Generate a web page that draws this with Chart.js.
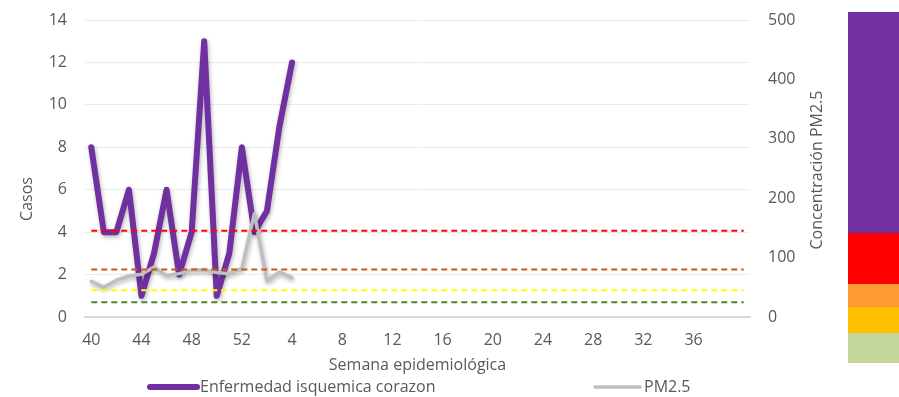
<!DOCTYPE html>
<html>
<head>
<meta charset="utf-8">
<script src="https://cdn.jsdelivr.net/npm/chart.js@4.4.1/dist/chart.umd.min.js"></script>
<style>
	html, body { margin: 0; padding: 0; background: #fff; }
	#wrap { position: relative; width: 899px; height: 397px; }
	#escala { position: absolute; left: 848px; top: 12px; width: 51px; }
	#escala div { width: 100%; }
</style>
</head>
<body>
<div id="wrap">
	<canvas id="grafico" width="899" height="397"></canvas>
	<div id="escala">
		<div style="height:221px;background:#7030a0"></div>
		<div style="height:51px;background:#ff0000"></div>
		<div style="height:23px;background:#ff9933"></div>
		<div style="height:26px;background:#ffc000"></div>
		<div style="height:30px;background:#c4d79b"></div>
	</div>
</div>
<script>
	// semanas epidemiologicas (40 a 52 y luego 1 a 40)
	const semanas = [
		"40", "41", "42", "43", "44", "45", "46", "47", "48", "49", "50", "51", "52",
		"1", "2", "3", "4", "5", "6", "7", "8", "9", "10", "11", "12", "13", "14",
		"15", "16", "17", "18", "19", "20", "21", "22", "23", "24", "25", "26", "27",
		"28", "29", "30", "31", "32", "33", "34", "35", "36", "37", "38", "39", "40",
	];
	const casos = [8, 4, 4, 6, 1, 3, 6, 2, 4, 13, 1, 3, 8, 4, 5, 9, 12];
	const pm25 = [60, 50, 62, 69, 72, 84, 70, 73, 79, 79, 75, 73, 82, 174, 61, 76, 66];
	const umbrales = [25, 45, 80, 145];
	const coloresUmbral = ["#548235", "#ffff00", "#c55a11", "#ff0000"];

	const gris = "#595959";
	const fuente = { family: "'Open Sans', sans-serif", size: 16 };

	const lineasUmbral = umbrales.map((u, i) => ({
		label: "umbral " + u,
		data: semanas.map(() => u),
		yAxisID: "y1",
		borderColor: coloresUmbral[i],
		borderWidth: 2,
		borderDash: [6, 4],
		pointRadius: 0,
	}));

	const sombra = {
		id: "sombra",
		beforeDatasetDraw(chart, args) {
			if (!args.meta._dataset.sombra) return;
			const ctx = chart.ctx;
			ctx.save();
			ctx.shadowColor = "rgba(0,0,0,0.3)";
			ctx.shadowBlur = 4;
			ctx.shadowOffsetX = 1;
			ctx.shadowOffsetY = 2;
		},
		afterDatasetDraw(chart, args) {
			if (args.meta._dataset.sombra) chart.ctx.restore();
		},
	};

	const textos = {
		id: "textos",
		afterDraw(chart) {
			const ctx = chart.ctx;
			ctx.save();
			ctx.fillStyle = gris;
			ctx.font = "16px 'Open Sans', sans-serif";
			ctx.textAlign = "center";
			ctx.textBaseline = "middle";
			ctx.translate(27, 199);
			ctx.rotate(-Math.PI / 2);
			ctx.fillText("Casos", 0, 0);
			ctx.restore();

			ctx.save();
			ctx.fillStyle = gris;
			ctx.font = "16px 'Open Sans', sans-serif";
			ctx.textAlign = "center";
			ctx.textBaseline = "middle";
			ctx.translate(817, 170);
			ctx.rotate(-Math.PI / 2);
			ctx.fillText("Concentración PM2.5", 0, 0);
			ctx.restore();

			// leyenda
			const items = [
				{ ds: chart.data.datasets[5], x1: 150, x2: 197, tx: 200 },
				{ ds: chart.data.datasets[4], x1: 595, x2: 640, tx: 644 },
			];
			ctx.save();
			ctx.font = "16px 'Open Sans', sans-serif";
			ctx.textBaseline = "middle";
			items.forEach((it) => {
				ctx.strokeStyle = it.ds.borderColor;
				ctx.lineWidth = it.ds.borderWidth;
				ctx.lineCap = "round";
				ctx.beginPath();
				ctx.moveTo(it.x1, 387);
				ctx.lineTo(it.x2, 387);
				ctx.stroke();
				ctx.fillStyle = gris;
				ctx.fillText(it.ds.label, it.tx, 387);
			});
			ctx.restore();
		},
	};

	new Chart(document.getElementById("grafico"), {
		type: "line",
		data: {
			labels: semanas,
			datasets: [
				...lineasUmbral,
				{
					label: "PM2.5",
					data: pm25,
					yAxisID: "y1",
					borderColor: "#bfbfbf",
					borderWidth: 3.5,
					pointRadius: 0,
					borderJoinStyle: "round",
					borderCapStyle: "round",
					sombra: true,
				},
				{
					label: "Enfermedad isquemica corazon",
					data: casos,
					yAxisID: "y",
					borderColor: "#7030a0",
					borderWidth: 6,
					pointRadius: 0,
					borderJoinStyle: "round",
					borderCapStyle: "round",
					sombra: true,
				},
			],
		},
		options: {
			responsive: false,
			animation: false,
			layout: { padding: { top: 20, left: 0, right: 0, bottom: 0 } },
			plugins: {
				legend: { display: false },
				tooltip: { enabled: false },
			},
			scales: {
				x: {
					offset: true,
					grid: { display: false, drawTicks: false },
					border: { color: "#d9d9d9", width: 2 },
					ticks: {
						autoSkip: false,
						maxRotation: 0,
						padding: 14,
						color: gris,
						font: fuente,
						// la ultima semana queda sin etiqueta
						callback: (v, i) => (i % 4 === 0 && i < semanas.length - 1 ? semanas[i] : ""),
					},
					title: {
						display: true,
						text: "Semana epidemiológica",
						color: gris,
						font: fuente,
						padding: { top: 0, bottom: 22 },
					},
					afterFit: (s) => {
						s.height = 80;
					},
				},
				y: {
					min: 0,
					max: 14,
					ticks: { stepSize: 2, padding: 18, color: gris, font: fuente },
					grid: { color: "#ececec", drawTicks: false },
					border: { display: false },
					afterFit: (s) => {
						s.width = 85;
						s.paddingTop = 0;
						s.paddingBottom = 0;
					},
				},
				y1: {
					position: "right",
					min: 0,
					max: 500,
					ticks: { stepSize: 100, padding: 18, color: gris, font: fuente },
					grid: { display: false, drawTicks: false },
					border: { display: false },
					afterFit: (s) => {
						s.width = 149;
						s.paddingTop = 0;
						s.paddingBottom = 0;
					},
				},
			},
		},
		plugins: [sombra, textos],
	});
</script>
</body>
</html>
